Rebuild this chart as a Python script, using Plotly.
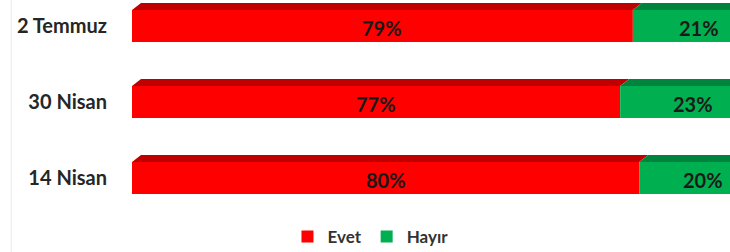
import plotly.graph_objects as go

categories = ["14 Nisan", "30 Nisan", "2 Temmuz"]
evet = [80, 77, 79]
hayir = [20, 23, 21]
series_names = ["Evet", "Hayır"]

front_colors = ["#FF0000", "#00B050"]
top_colors = ["#C00000", "#00843D"]

FONT = "Lato"
ypos = list(range(len(categories)))
bar_w = 0.42
px_per_x = 6.34
px_per_y = 76.0
dx = 9 / px_per_x
dy = 7 / px_per_y

fig = go.Figure()
for name, vals, col, base_vals in [
    (series_names[0], evet, front_colors[0], [0] * len(evet)),
    (series_names[1], hayir, front_colors[1], evet),
]:
    fig.add_trace(go.Bar(
        y=ypos, x=vals, base=base_vals, orientation="h", name=name,
        marker=dict(color=col, line=dict(width=0)), width=bar_w,
        hoverinfo="skip",
    ))

shapes = []
annotations = []
for i, y in enumerate(ypos):
    yt = y + bar_w / 2
    segs = [(0, evet[i], top_colors[0]), (evet[i], evet[i] + hayir[i], top_colors[1])]
    for x0, x1, c in segs:
        path = (f"M {x0},{yt} L {x1},{yt} L {x1 + dx},{yt + dy} "
                f"L {x0 + dx},{yt + dy} Z")
        shapes.append(dict(type="path", path=path, xref="x", yref="y",
                           fillcolor=c, line=dict(width=0), layer="above"))
        annotations.append(dict(
            x=(x0 + x1) / 2, y=y - 0.03, xref="x", yref="y",
            text=f"{round(x1 - x0)}%", showarrow=False,
            font=dict(family=FONT, size=20, color="#1A1A1A", weight="bold"),
        ))

# faint chart border line on the left
shapes.append(dict(type="line", xref="paper", yref="paper", x0=-0.202, x1=-0.202,
                   y0=-0.2, y1=1.2, line=dict(color="#EBEBEB", width=1)))

fig.update_layout(
    width=730, height=252,
    margin=dict(l=132, r=0, t=0, b=36, autoexpand=False),
    paper_bgcolor="white", plot_bgcolor="white",
    barmode="overlay",
    showlegend=True,
    legend=dict(orientation="h", x=0.26, xanchor="left", y=-0.097, yanchor="middle",
                font=dict(family=FONT, size=17, color="#333333", weight="bold"),
                itemwidth=30, traceorder="normal"),
    xaxis=dict(range=[0, 598 / 634 * 100], visible=False, fixedrange=True),
    yaxis=dict(range=[-0.5, 2 + 26 / px_per_y], tickvals=ypos, ticktext=categories,
               showgrid=False, zeroline=False, showline=False, ticks="",
               ticklabelstandoff=24, automargin=False, fixedrange=True,
               tickfont=dict(family=FONT, size=20, color="#262626", weight="bold")),
    shapes=shapes,
    annotations=annotations,
)

fig.write_html("out.html", config={"displayModeBar": False},
               post_script="document.body.style.margin='0';")
